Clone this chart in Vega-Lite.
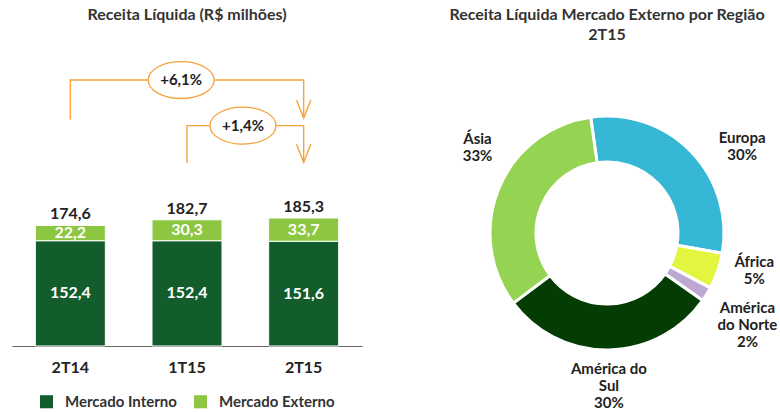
{
  "$schema": "https://vega.github.io/schema/vega-lite/v6.json",
  "background": "white",
  "padding": {"left": 12, "top": 6, "right": 0, "bottom": 0},
  "spacing": 82,
  "resolve": {"scale": {"color": "independent"}},
  "config": {
    "view": {"stroke": null},
    "font": "Lato",
    "locale": {"number": {"decimal": ",", "thousands": ".", "grouping": [3], "currency": ["R$ ", ""]}},
    "title": {"font": "Lato", "fontSize": 16, "fontWeight": "bold", "color": "#333333", "anchor": "middle"},
    "legend": {"layout": {"bottom": {"anchor": "middle"}}}
  },
  "hconcat": [
    {
      "width": 350,
      "height": 286,
      "title": {"text": "Receita Líquida (R$ milhões)", "offset": 35.5},
      "layer": [
        {
          "data": {"values": [
            {"trimestre": "2T14", "mercado": "Mercado Interno", "valor": 152.4},
            {"trimestre": "2T14", "mercado": "Mercado Externo", "valor": 22.2},
            {"trimestre": "1T15", "mercado": "Mercado Interno", "valor": 152.4},
            {"trimestre": "1T15", "mercado": "Mercado Externo", "valor": 30.3},
            {"trimestre": "2T15", "mercado": "Mercado Interno", "valor": 151.6},
            {"trimestre": "2T15", "mercado": "Mercado Externo", "valor": 33.7}
          ]},
          "encoding": {
            "x": {"field": "trimestre", "type": "nominal", "sort": ["2T14", "1T15", "2T15"],
              "scale": {"paddingInner": 0.4, "paddingOuter": 0.2},
              "axis": {"title": null, "labelAngle": 0, "labelFont": "Lato", "labelFontSize": 16, "labelFontWeight": "bold", "labelColor": "#222222", "ticks": false, "domainColor": "#666666", "domainWidth": 1, "labelPadding": 13}}
          },
          "layer": [
            {
              "mark": {"type": "bar", "stroke": "white", "strokeWidth": 1},
              "encoding": {
                "y": {"field": "valor", "type": "quantitative", "stack": "zero", "scale": {"domain": [0, 414], "nice": false}, "axis": null},
                "order": {"field": "mercado", "sort": "descending"},
                "color": {"field": "mercado", "type": "nominal",
                  "scale": {"domain": ["Mercado Interno", "Mercado Externo"], "range": ["#135c2b", "#8dc641"]},
                  "legend": {"orient": "bottom", "direction": "horizontal", "title": null, "symbolType": "square", "symbolSize": 170, "symbolStrokeWidth": 0, "labelFont": "Lato", "labelFontSize": 15, "labelFontWeight": "bold", "labelColor": "#333333", "columnPadding": 16, "labelOffset": 11, "offset": 19}}
              }
            },
            {
              "mark": {"type": "text", "font": "Lato", "fontSize": 16, "fontWeight": "bold", "color": "white", "baseline": "middle"},
              "encoding": {
                "y": {"field": "valor", "type": "quantitative", "stack": "zero", "bandPosition": 0.5, "scale": {"domain": [0, 414], "nice": false}},
                "order": {"field": "mercado", "sort": "descending"},
                "text": {"field": "valor", "type": "quantitative", "format": ",.1f"}
              }
            },
            {
              "mark": {"type": "text", "font": "Lato", "fontSize": 16, "fontWeight": "bold", "color": "#222222", "baseline": "alphabetic", "dy": -6},
              "encoding": {
                "y": {"aggregate": "sum", "field": "valor", "type": "quantitative", "scale": {"domain": [0, 414], "nice": false}},
                "text": {"aggregate": "sum", "field": "valor", "type": "quantitative", "format": ",.1f"}
              }
            }
          ]
        },
        {
          "layer": [
            {
              "data": {"values": [
                {"id": "a", "k": 1, "x": 0, "y": 328},
                {"id": "a", "k": 2, "x": 0, "y": 385},
                {"id": "a", "k": 3, "x": 2, "y": 385},
                {"id": "a", "k": 4, "x": 2, "y": 330},
                {"id": "b", "k": 1, "x": 1, "y": 265},
                {"id": "b", "k": 2, "x": 1, "y": 319},
                {"id": "b", "k": 3, "x": 2, "y": 319},
                {"id": "b", "k": 4, "x": 2, "y": 266}
              ]},
              "mark": {"type": "line", "color": "#f4a33d", "strokeWidth": 1.4},
              "encoding": {
                "x": {"field": "x", "type": "quantitative", "scale": {"domain": [-0.5, 2.5], "nice": false, "zero": false}, "axis": null},
                "y": {"field": "y", "type": "quantitative", "scale": {"domain": [0, 414], "nice": false}},
                "detail": {"field": "id"},
                "order": {"field": "k"}
              }
            },
            {
              "data": {"values": [
                {"x": 2, "y": 330},
                {"x": 2, "y": 266}
              ]},
              "mark": {"type": "point", "shape": "M -0.4 -1 L 0 0 L 0.4 -1", "filled": false, "size": 1296, "stroke": "#f4a33d", "strokeWidth": 1.4, "opacity": 1},
              "encoding": {
                "x": {"field": "x", "type": "quantitative", "scale": {"domain": [-0.5, 2.5], "nice": false, "zero": false}, "axis": null},
                "y": {"field": "y", "type": "quantitative", "scale": {"domain": [0, 414], "nice": false}}
              }
            },
            {
              "data": {"values": [
                {"x": 0.95, "y": 385, "rotulo": "+6,1%"},
                {"x": 1.48, "y": 319, "rotulo": "+1,4%"}
              ]},
              "encoding": {
                "x": {"field": "x", "type": "quantitative", "scale": {"domain": [-0.5, 2.5], "nice": false, "zero": false}, "axis": null},
                "y": {"field": "y", "type": "quantitative", "scale": {"domain": [0, 414], "nice": false}}
              },
              "layer": [
                {
                  "mark": {"type": "point", "shape": "M -1 0 C -1 -0.31 -0.55 -0.56 0 -0.56 C 0.55 -0.56 1 -0.31 1 0 C 1 0.31 0.55 0.56 0 0.56 C -0.55 0.56 -1 0.31 -1 0 Z", "filled": true, "fill": "white", "stroke": "#f4a33d", "strokeWidth": 1.3, "size": 4356, "opacity": 1}
                },
                {
                  "mark": {"type": "text", "font": "Lato", "fontSize": 15, "fontWeight": "bold", "color": "#222222", "baseline": "middle"},
                  "encoding": {"text": {"field": "rotulo"}}
                }
              ]
            }
          ]
        }
      ],
      "resolve": {"scale": {"x": "independent"}}
    },
    {
      "width": 326,
      "height": 346,
      "title": {"text": ["Receita Líquida Mercado Externo por Região", "2T15"], "lineHeight": 20, "offset": 17.5},
      "data": {"values": [
        {"regiao": "Europa", "pct": 30, "rotulo": "Europa\n30%", "ordem": 1},
        {"regiao": "África", "pct": 5, "rotulo": "África\n5%", "ordem": 2},
        {"regiao": "América do Norte", "pct": 2, "rotulo": "América\ndo Norte\n2%", "ordem": 3},
        {"regiao": "América do Sul", "pct": 30, "rotulo": "América do\nSul\n30%", "ordem": 4},
        {"regiao": "Ásia", "pct": 33, "rotulo": "Ásia\n33%", "ordem": 5}
      ]},
      "encoding": {
        "theta": {"field": "pct", "type": "quantitative", "stack": true, "scale": {"range": [-0.14, 6.143]}},
        "order": {"field": "ordem"}
      },
      "layer": [
        {
          "mark": {"type": "arc", "outerRadius": 117, "innerRadius": 71, "stroke": "white", "strokeWidth": 3},
          "encoding": {
            "color": {"field": "regiao", "type": "nominal",
              "scale": {"domain": ["Europa", "África", "América do Norte", "América do Sul", "Ásia"], "range": ["#35b7d5", "#e3f53f", "#bca8d3", "#033d04", "#95d452"]},
              "legend": null}
          }
        },
        {
          "mark": {"type": "text", "radius": 160, "thetaOffset": 0.234, "font": "Lato", "fontSize": 15, "fontWeight": "bold", "color": "#222222", "lineBreak": "\n", "lineHeight": 17, "baseline": "middle", "align": "center"},
          "encoding": {"text": {"condition": {"test": "datum.regiao === 'Ásia'", "field": "rotulo"}, "value": ""}}
        },
        {
          "mark": {"type": "text", "radius": 165, "thetaOffset": 0.157, "font": "Lato", "fontSize": 15, "fontWeight": "bold", "color": "#222222", "lineBreak": "\n", "lineHeight": 17, "baseline": "middle", "align": "center"},
          "encoding": {"text": {"condition": {"test": "datum.regiao === 'Europa'", "field": "rotulo"}, "value": ""}}
        },
        {
          "mark": {"type": "text", "radius": 150, "thetaOffset": -0.14, "font": "Lato", "fontSize": 15, "fontWeight": "bold", "color": "#222222", "lineBreak": "\n", "lineHeight": 17, "baseline": "middle", "align": "center"},
          "encoding": {"text": {"condition": {"test": "datum.regiao === 'África'", "field": "rotulo"}, "value": ""}}
        },
        {
          "mark": {"type": "text", "radius": 159, "thetaOffset": -0.063, "font": "Lato", "fontSize": 15, "fontWeight": "bold", "color": "#222222", "lineBreak": "\n", "lineHeight": 17, "baseline": "middle", "align": "center"},
          "encoding": {"text": {"condition": {"test": "datum.regiao === 'América do Norte'", "field": "rotulo"}, "value": ""}}
        },
        {
          "mark": {"type": "text", "radius": 136, "font": "Lato", "fontSize": 15, "fontWeight": "bold", "color": "#222222", "lineBreak": "\n", "lineHeight": 17, "baseline": "middle", "align": "center"},
          "encoding": {"text": {"condition": {"test": "datum.regiao === 'América do Sul'", "field": "rotulo"}, "value": ""}}
        }
      ]
    }
  ]
}
